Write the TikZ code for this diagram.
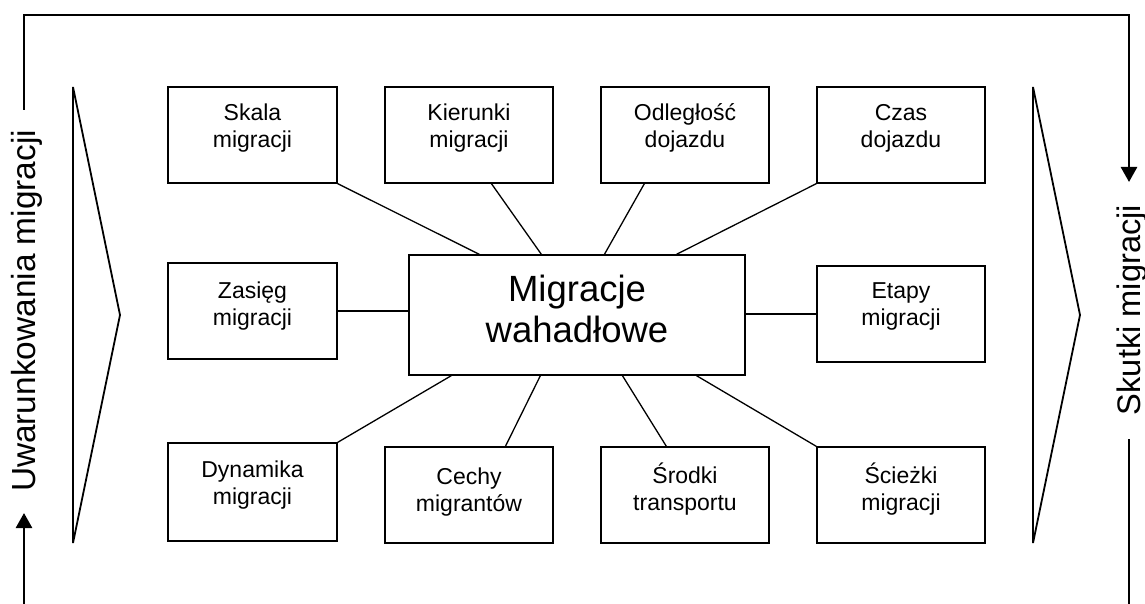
\documentclass[tikz,border=0pt]{standalone}
\usepackage{fontspec}
\setmainfont{Liberation Sans}
\usetikzlibrary{arrows.meta,calc}
\newcommand{\twol}[3][21pt]{\rule{0pt}{20pt}#2\\#3\rule[-#1]{0pt}{#1}}
\begin{document}
\begin{tikzpicture}[x=1pt,y=-1pt,
  box/.style={draw,line width=1.2pt,minimum width=168pt,minimum height=96pt,
    inner sep=0pt,align=center,font=\fontsize{23}{27}\selectfont},
  bigbox/.style={draw,line width=1.2pt,minimum width=336pt,minimum height=120pt,
    inner sep=0pt,align=center,font=\fontsize{36.5}{41}\selectfont},
  link/.style={line width=1.3pt},
  frame/.style={line width=2.6pt},
  side/.style={rotate=90,anchor=base,inner sep=0pt,font=\fontsize{33}{38}\selectfont},
  chev/.style={line width=1.8pt,line join=bevel},
  tip/.style={-{Triangle[width=16pt,length=15pt]}}]
\useasboundingbox (0,0) rectangle (1145,604);

% chevrons
\draw[chev] (73,87) -- (120,315) -- (73,543) -- cycle;
\draw[chev] (1033,87) -- (1080,315) -- (1033,543) -- cycle;

% side texts
\node[side,font=\fontsize{33.4}{38}\selectfont] (cond) at (35,311) {Uwarunkowania migracji};
\node[side,font=\fontsize{32.6}{38}\selectfont] (eff) at (1140,310) {Skutki migracji};

% frame coordinates
\coordinate (condtop) at (24,110);
\coordinate (condbot) at (24,513);
\coordinate (startl) at (24,604);
\coordinate (tl) at (24,15);
\coordinate (tr) at (1129,15);
\coordinate (efftop) at (1129,182);
\coordinate (effbot) at (1129,439);
\coordinate (endr) at (1129,604);

\draw[frame,line join=miter,tip] (condtop) -- (tl) -- (tr) -- (efftop);
\draw[frame,tip] (startl) -- (condbot);
\draw[frame] (effbot) -- (endr);

% center
\node[bigbox] (mw) at (577,315) {\rule{0pt}{28pt}Migracje\\wahadłowe\rule[-15pt]{0pt}{15pt}};

% top row
\node[box,minimum width=169pt] (skala) at (252.5,135) {\twol[22pt]{Skala}{migracji}};
\node[box] (kier) at (469,135) {\twol[21pt]{Kierunki}{migracji}};
\node[box] (odl) at (685,135) {\twol[21pt]{Odległość}{dojazdu}};
\node[box] (czas) at (901,135) {\twol[21pt]{Czas}{dojazdu}};

% middle row
\node[box,minimum width=169pt] (zas) at (252.5,311) {\twol[19pt]{Zasięg}{migracji}};
\node[box] (etapy) at (901,314) {\twol[25pt]{Etapy}{migracji}};

% bottom row
\node[box,minimum width=169pt,minimum height=98pt] (dyn) at (252.5,492) {\twol[23pt]{Dynamika}{migracji}};
\node[box] (cechy) at (469,495) {\twol[15pt]{Cechy}{migrantów}};
\node[box] (srod) at (685,495) {\twol[16pt]{Środki}{transportu}};
\node[box] (sciez) at (901,495) {\twol[16pt]{Ścieżki}{migracji}};

% connectors
\draw[link] (skala.south east) -- ($(mw.north west)+(71,0)$);
\draw[link] ($(kier.south west)+(107,0)$) -- ($(mw.north west)+(133,0)$);
\draw[link] ($(odl.south west)+(44,0)$) -- ($(mw.north west)+(196,0)$);
\draw[link] (czas.south west) -- ($(mw.north west)+(268,0)$);
\draw[link] (zas.east) -- (zas.east -| mw.west);
\draw[link] (mw.east |- etapy.west) -- (etapy.west);
\draw[link] (dyn.north east) -- ($(mw.south west)+(43,0)$);
\draw[link] ($(cechy.north west)+(121,0)$) -- ($(mw.south west)+(132,0)$);
\draw[link] ($(srod.north west)+(66,0)$) -- ($(mw.south west)+(214,0)$);
\draw[link] (sciez.north west) -- ($(mw.south west)+(288,0)$);
\end{tikzpicture}
\end{document}
